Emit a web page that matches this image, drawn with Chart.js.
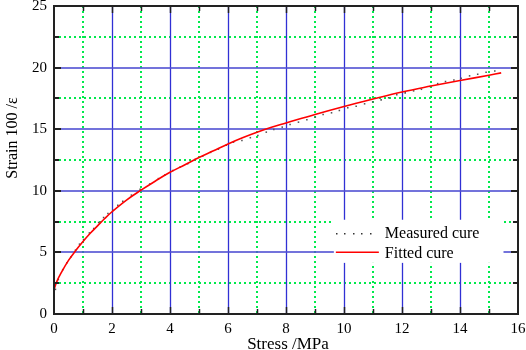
<!DOCTYPE html>
<html>
<head>
<meta charset="utf-8">
<script src="https://cdn.jsdelivr.net/npm/chart.js@4/dist/chart.umd.min.js"></script>
<style>
html,body{margin:0;padding:0;background:#fff;}
#wrap{width:526px;height:350px;}
</style>
</head>
<body>
<div id="wrap"><canvas id="c" width="526" height="350"></canvas></div>
<script>
// ---- data ----
const measuredX = [0, 0, 0.05, 0.15, 0.30, 0.44, 0.59, 0.74, 0.88, 1.02, 1.22, 1.37, 1.54, 1.71, 1.86, 2.03, 2.20, 2.37, 2.67, 2.97, 3.30, 3.60, 3.83, 4.10, 4.35, 4.61, 4.87, 5.13, 5.40, 5.67, 5.94, 6.19, 6.48, 6.77, 7.03, 7.32, 7.58, 7.87, 8.14, 8.43, 8.72, 9.01, 9.28, 9.57, 9.84, 10.13, 10.42, 10.71, 10.99, 11.28, 11.54, 11.82, 12.11, 12.40, 12.67, 12.97, 13.23, 13.50, 13.79, 14.04, 14.33, 14.61, 14.90, 15.20];
const measuredY = [0.9, 1.4, 2.0, 2.8, 3.6, 4.15, 4.64, 5.18, 5.67, 6.05, 6.58, 6.94, 7.43, 7.83, 8.15, 8.42, 8.83, 9.15, 9.65, 10.12, 10.55, 10.99, 11.31, 11.65, 11.93, 12.20, 12.55, 12.82, 13.12, 13.38, 13.70, 13.95, 14.09, 14.31, 14.49, 14.76, 14.98, 15.17, 15.38, 15.57, 15.77, 15.98, 16.19, 16.33, 16.52, 16.74, 16.87, 17.06, 17.22, 17.38, 17.55, 17.79, 17.95, 18.11, 18.24, 18.47, 18.70, 18.87, 19.00, 19.13, 19.33, 19.46, 19.62, 19.73];
const fittedX = [0, 0.1, 0.25, 0.5, 0.75, 1, 1.25, 1.5, 1.75, 2, 2.5, 3, 3.5, 4, 4.5, 5, 5.5, 6, 6.5, 7, 7.5, 8, 9, 10, 11, 12, 13, 14, 15, 15.42];
const fittedY = [2.0, 2.65, 3.35, 4.35, 5.15, 5.88, 6.55, 7.15, 7.75, 8.3, 9.25, 10.05, 10.8, 11.5, 12.1, 12.7, 13.25, 13.8, 14.3, 14.75, 15.15, 15.5, 16.2, 16.85, 17.45, 18.02, 18.5, 18.95, 19.38, 19.57];
const seriesNames = ['Measured cure', 'Fitted cure'];
const xTitle = 'Stress /MPa';
const yTitle = 'Strain 100 /\u03b5';
const xRange = [0, 16];
const yRange = [0, 25];

const SERIF = "'Liberation Serif', 'Times New Roman', serif";

const toPts = (xs, ys) => xs.map((x, i) => ({x: x, y: ys[i]}));

const gridPlugin = {
  id: 'customGrid',
  beforeDatasetsDraw(chart) {
    const {ctx, chartArea: a, scales: {x, y}} = chart;
    ctx.save();
    // green dotted minor lines
    ctx.strokeStyle = '#00ea4c';
    ctx.lineWidth = 2;
    ctx.setLineDash([2, 3]);
    for (let v = xRange[0] + 1; v < xRange[1]; v += 2) {
      const px = Math.round(x.getPixelForValue(v));
      ctx.beginPath(); ctx.moveTo(px, a.top); ctx.lineTo(px, a.bottom); ctx.stroke();
    }
    for (let v = 2.5; v < yRange[1]; v += 5) {
      const py = Math.round(y.getPixelForValue(v));
      ctx.beginPath(); ctx.moveTo(a.left, py); ctx.lineTo(a.right, py); ctx.stroke();
    }
    ctx.setLineDash([]);
    // blue major lines
    ctx.strokeStyle = '#3030d4';
    ctx.lineWidth = 1.3;
    for (let v = xRange[0] + 2; v < xRange[1]; v += 2) {
      const px = Math.round(x.getPixelForValue(v)) + 0.5;
      ctx.beginPath(); ctx.moveTo(px, a.top); ctx.lineTo(px, a.bottom); ctx.stroke();
    }
    ctx.strokeStyle = 'rgba(80,80,210,0.8)';
    ctx.lineWidth = 2;
    for (let v = 5; v < yRange[1]; v += 5) {
      const py = Math.round(y.getPixelForValue(v));
      ctx.beginPath(); ctx.moveTo(a.left, py); ctx.lineTo(a.right, py); ctx.stroke();
    }
    ctx.restore();
  },
  afterDatasetsDraw(chart) {
    const {ctx, scales: {x, y}} = chart;
    // legend box inside plot
    const bx0 = x.getPixelForValue(9.65), bx1 = x.getPixelForValue(15.5);
    const by0 = y.getPixelForValue(7.65), by1 = y.getPixelForValue(4.15);
    ctx.save();
    ctx.fillStyle = '#fff';
    ctx.fillRect(bx0, by0, bx1 - bx0, by1 - by0);
    const ds = chart.data.datasets;
    // measured sample (dotted)
    ctx.fillStyle = '#333';
    for (let px = bx0 + 2; px <= bx0 + 37; px += 8.5) {
      ctx.fillRect(Math.round(px), Math.round(by0 + 13), 1.5, 1.5);
    }
    // fitted sample
    ctx.strokeStyle = ds[1].borderColor;
    ctx.lineWidth = 1.5;
    ctx.beginPath();
    ctx.moveTo(bx0 + 2, by0 + 32.5); ctx.lineTo(bx0 + 45, by0 + 32.5); ctx.stroke();
    ctx.fillStyle = '#000';
    ctx.font = '16px ' + SERIF;
    ctx.textBaseline = 'alphabetic';
    ctx.textAlign = 'left';
    ctx.fillText(ds[0].label, bx0 + 51, by0 + 18);
    ctx.fillText(ds[1].label, bx0 + 51, by0 + 38);
    ctx.restore();
  },
  afterDraw(chart) {
    const {ctx, chartArea: a, scales: {x, y}} = chart;
    ctx.save();
    ctx.strokeStyle = '#222';
    ctx.lineWidth = 2;
    ctx.strokeRect(a.left, a.top, a.right - a.left, a.bottom - a.top);
    ctx.lineWidth = 1.5;
    for (let v = xRange[0] + 1; v < xRange[1]; v += 1) {
      const px = Math.round(x.getPixelForValue(v)) + 0.5;
      const len = (v % 2 === 0) ? 7 : 5;
      ctx.beginPath();
      ctx.moveTo(px, a.bottom); ctx.lineTo(px, a.bottom - len);
      ctx.moveTo(px, a.top); ctx.lineTo(px, a.top + len);
      ctx.stroke();
    }
    ctx.lineWidth = 2;
    for (let v = 2.5; v < yRange[1]; v += 2.5) {
      const py = Math.round(y.getPixelForValue(v));
      const len = (v % 5 === 0) ? 7 : 5;
      ctx.beginPath();
      ctx.moveTo(a.left, py); ctx.lineTo(a.left + len, py);
      ctx.moveTo(a.right, py); ctx.lineTo(a.right - len, py);
      ctx.stroke();
    }
    // axis titles
    ctx.fillStyle = '#000';
    ctx.font = '17px ' + SERIF;
    ctx.textAlign = 'center';
    ctx.textBaseline = 'alphabetic';
    ctx.fillText(xTitle, (a.left + a.right) / 2 + 2, 349);
    ctx.save();
    ctx.translate(17, 138);
    ctx.rotate(-Math.PI / 2);
    ctx.font = '16px ' + SERIF;
    ctx.fillText(yTitle, 0, 0);
    ctx.restore();
    ctx.restore();
  }
};

new Chart(document.getElementById('c'), {
  type: 'scatter',
  data: {
    datasets: [
      {
        label: seriesNames[0],
        data: toPts(measuredX, measuredY),
        showLine: false,
        pointRadius: 1.1,
        pointStyle: 'rect',
        backgroundColor: '#555',
        borderColor: '#555',
        borderWidth: 0,
        order: 2
      },
      {
        label: seriesNames[1],
        data: toPts(fittedX, fittedY),
        showLine: true,
        borderColor: '#ff0000',
        backgroundColor: '#ff0000',
        borderWidth: 1.6,
        pointRadius: 0,
        tension: 0.4,
        order: 1
      }
    ]
  },
  options: {
    responsive: false,
    animation: false,
    devicePixelRatio: 1,
    layout: {padding: {top: 6, right: 8, left: 0, bottom: 0}},
    plugins: {legend: {display: false}, tooltip: {enabled: false}},
    scales: {
      x: {
        type: 'linear', min: xRange[0], max: xRange[1],
        grid: {display: false, drawTicks: false},
        border: {display: false},
        ticks: {
          stepSize: 1, autoSkip: false, maxRotation: 0, padding: 6,
          color: '#000', font: {family: SERIF, size: 15},
          callback: (v) => (v % 2 === 0 ? String(v) : '')
        },
        afterFit: (s) => { s.height = 36; s.paddingLeft = 0; s.paddingRight = 0; }
      },
      y: {
        type: 'linear', min: yRange[0], max: yRange[1],
        grid: {display: false, drawTicks: false},
        border: {display: false},
        ticks: {
          stepSize: 2.5, autoSkip: false, padding: 7,
          color: '#000', font: {family: SERIF, size: 15},
          callback: (v) => (v % 5 === 0 ? String(v) : '')
        },
        afterFit: (s) => { s.width = 54; s.paddingTop = 0; s.paddingBottom = 0; }
      }
    }
  },
  plugins: [gridPlugin]
});
</script>
</body>
</html>
